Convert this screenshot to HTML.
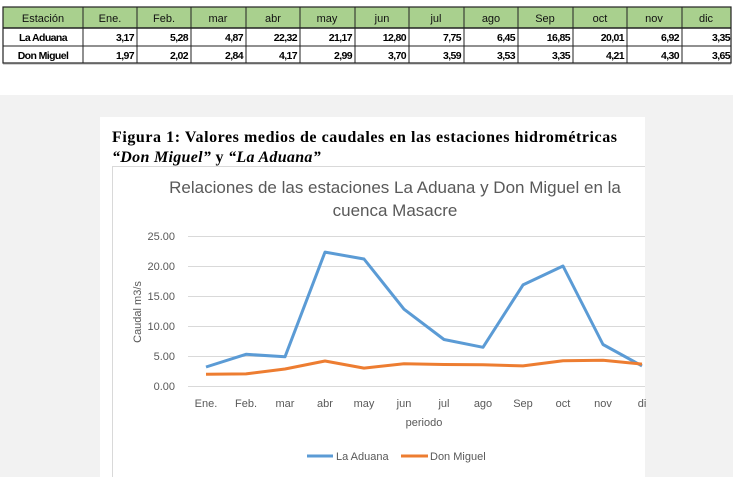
<!DOCTYPE html>
<html><head><meta charset="utf-8"><style>
body{margin:0;width:733px;height:477px;overflow:hidden;background:#fff;font-family:"Liberation Sans",sans-serif}
</style></head><body>
<svg width="733" height="477" xmlns="http://www.w3.org/2000/svg" font-family="Liberation Sans, sans-serif">
<rect x="0" y="95" width="733" height="382" fill="#f2f2f2"/>
<rect x="100" y="117" width="545" height="360" fill="#fff"/>
<g>
<rect x="3" y="7" width="728" height="21" fill="#a9d08e"/>
<rect x="3" y="7" width="728" height="56" fill="none" stroke="#222" stroke-width="1.2"/>
<line x1="3" y1="28" x2="731" y2="28" stroke="#222" stroke-width="1.5"/>
<line x1="3" y1="46" x2="731" y2="46" stroke="#222" stroke-width="1"/>
<g stroke="#222" stroke-width="1">
<line x1="83" y1="7" x2="83" y2="63"/><line x1="137" y1="7" x2="137" y2="63"/><line x1="191" y1="7" x2="191" y2="63"/><line x1="246" y1="7" x2="246" y2="63"/><line x1="300" y1="7" x2="300" y2="63"/><line x1="355" y1="7" x2="355" y2="63"/><line x1="409" y1="7" x2="409" y2="63"/><line x1="464" y1="7" x2="464" y2="63"/><line x1="518" y1="7" x2="518" y2="63"/><line x1="573" y1="7" x2="573" y2="63"/><line x1="627" y1="7" x2="627" y2="63"/><line x1="682" y1="7" x2="682" y2="63"/>
</g>
<line x1="3" y1="64" x2="731" y2="64" stroke="#aaa" stroke-width="1"/>
<g font-size="11" fill="#111" text-anchor="middle">
<text x="43" y="22">Estación</text><text x="110" y="22">Ene.</text><text x="164" y="22">Feb.</text><text x="218" y="22">mar</text><text x="273" y="22">abr</text><text x="327" y="22">may</text><text x="382" y="22">jun</text><text x="436" y="22">jul</text><text x="491" y="22">ago</text><text x="545" y="22">Sep</text><text x="600" y="22">oct</text><text x="654" y="22">nov</text><text x="706" y="22">dic</text>
</g>
<g font-size="10.5" font-weight="bold" fill="#000" letter-spacing="-0.6">
<text x="43" y="41" text-anchor="middle">La Aduana</text>
<text x="43" y="59" text-anchor="middle">Don Miguel</text>
<g text-anchor="end">
<text x="134" y="41">3,17</text><text x="188" y="41">5,28</text><text x="243" y="41">4,87</text><text x="297" y="41">22,32</text><text x="352" y="41">21,17</text><text x="406" y="41">12,80</text><text x="461" y="41">7,75</text><text x="515" y="41">6,45</text><text x="570" y="41">16,85</text><text x="624" y="41">20,01</text><text x="679" y="41">6,92</text><text x="730" y="41">3,35</text>
<text x="134" y="59">1,97</text><text x="188" y="59">2,02</text><text x="243" y="59">2,84</text><text x="297" y="59">4,17</text><text x="352" y="59">2,99</text><text x="406" y="59">3,70</text><text x="461" y="59">3,59</text><text x="515" y="59">3,53</text><text x="570" y="59">3,35</text><text x="624" y="59">4,21</text><text x="679" y="59">4,30</text><text x="730" y="59">3,65</text>
</g></g>
</g>
<text x="112" y="142" font-family="Liberation Serif, serif" font-weight="bold" font-size="16" fill="#000" textLength="505" lengthAdjust="spacing">Figura 1: Valores medios de caudales en las estaciones hidrométricas</text>
<text x="112" y="162" font-family="Liberation Serif, serif" font-weight="bold" font-size="16" fill="#000" letter-spacing="0.3"><tspan font-style="italic">“Don Miguel”</tspan> y <tspan font-style="italic">“La Aduana”</tspan></text>
<path d="M112.5 477 V166.5 H645" fill="none" stroke="#d9d9d9"/>
<g font-size="17" fill="#595959" text-anchor="middle">
<text x="395" y="193">Relaciones de las estaciones La Aduana y Don Miguel en la</text>
<text x="395" y="216">cuenca Masacre</text>
</g>
<g stroke="#d9d9d9" stroke-width="1">
<line x1="188" y1="236.5" x2="645" y2="236.5"/><line x1="188" y1="266.5" x2="645" y2="266.5"/><line x1="188" y1="296.5" x2="645" y2="296.5"/><line x1="188" y1="326.5" x2="645" y2="326.5"/><line x1="188" y1="356.5" x2="645" y2="356.5"/><line x1="188" y1="386.5" x2="645" y2="386.5"/>
</g>
<g font-size="11" fill="#595959" text-anchor="end">
<text x="175" y="240">25.00</text><text x="175" y="270">20.00</text><text x="175" y="300">15.00</text><text x="175" y="330">10.00</text><text x="175" y="360">5.00</text><text x="175" y="390">0.00</text>
</g>
<text transform="translate(141,312) rotate(-90)" font-size="11" fill="#595959" text-anchor="middle">Caudal m3/s</text>
<g font-size="11" fill="#595959" text-anchor="middle">
<text x="206" y="407">Ene.</text><text x="246" y="407">Feb.</text><text x="285" y="407">mar</text><text x="325" y="407">abr</text><text x="364" y="407">may</text><text x="404" y="407">jun</text><text x="444" y="407">jul</text><text x="483" y="407">ago</text><text x="523" y="407">Sep</text><text x="563" y="407">oct</text><text x="603" y="407">nov</text><text x="642" y="407">di</text>
<text x="424" y="426">periodo</text>
</g>
<polyline fill="none" stroke="#5b9bd5" stroke-width="3" stroke-linejoin="round" points="206,367 246,354.3 285,356.8 325,252.1 364,259 404,309.2 444,339.5 483,347.3 523,284.9 563,266 603,344.5 642,365.9"/>
<polyline fill="none" stroke="#ed7d31" stroke-width="3" stroke-linejoin="round" points="206,374.2 246,373.9 285,369 325,361 364,368.1 404,363.8 444,364.5 483,364.8 523,365.9 563,360.7 603,360.2 642,364.1"/>
<line x1="307" y1="456" x2="333" y2="456" stroke="#5b9bd5" stroke-width="3"/>
<text x="336" y="460" font-size="11" fill="#595959">La Aduana</text>
<line x1="401" y1="456" x2="428" y2="456" stroke="#ed7d31" stroke-width="3"/>
<text x="430" y="460" font-size="11" fill="#595959">Don Miguel</text>
</svg>
</body></html>
